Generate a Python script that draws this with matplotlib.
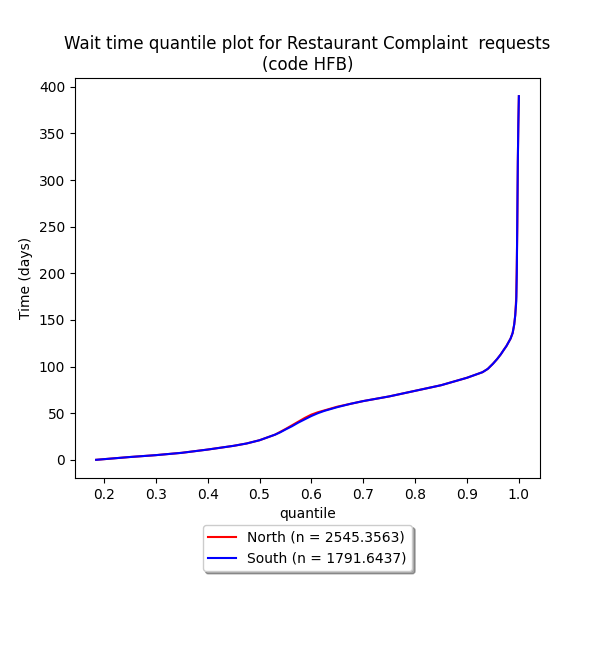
import matplotlib
matplotlib.use('Agg')
import matplotlib.pyplot as plt

# quantile curves
north_q = [0.185, 0.25, 0.3, 0.35, 0.4, 0.45, 0.475, 0.5, 0.515, 0.53, 0.54, 0.55, 0.5625, 0.575,
           0.5875, 0.6, 0.6125, 0.625, 0.6375, 0.65, 0.675, 0.7, 0.75, 0.8, 0.85, 0.875, 0.9, 0.915,
           0.93, 0.94, 0.95, 0.958, 0.965, 0.971, 0.976, 0.98, 0.984, 0.988, 0.991, 0.993, 0.995,
           0.996, 0.997, 0.998, 0.999, 1.0]
north_t = [0, 3, 5, 7.5, 11, 15, 17.5, 21, 24, 27, 30, 33, 37, 41,
           45, 48.5, 51, 53, 55, 57, 60, 63, 68, 74, 80, 84, 88, 91,
           94, 97.5, 103, 108, 113, 118, 122, 126, 130, 136, 145, 155, 175,
           210, 250, 320, 360, 390]

south_q = [0.185, 0.25, 0.3, 0.35, 0.4, 0.45, 0.475, 0.5, 0.515, 0.53, 0.54, 0.55, 0.5625, 0.575,
           0.5875, 0.6, 0.6125, 0.625, 0.6375, 0.65, 0.675, 0.7, 0.75, 0.8, 0.85, 0.875, 0.9, 0.915,
           0.93, 0.94, 0.95, 0.958, 0.965, 0.971, 0.976, 0.98, 0.984, 0.988, 0.991, 0.993, 0.995,
           0.996, 0.997, 0.998, 0.999, 1.0]
south_t = [0, 3, 5, 7.5, 11, 15, 17.5, 21, 24, 27, 29.5, 32.5, 36, 40,
           43.5, 47, 50, 52.5, 54.5, 56.5, 60, 63, 68, 74, 80, 84, 88, 91,
           94, 97.5, 103, 108, 113, 118, 122, 126, 130, 136, 145, 155, 170,
           200, 260, 320, 360, 390]

fig = plt.figure(figsize=(6, 6.5), dpi=100)
ax = fig.add_axes([0.125, 1 - 478 / 650, 0.775, 400 / 650])

ax.plot(north_q, north_t, color='red', label='North (n = 2545.3563)')
ax.plot(south_q, south_t, color='blue', label='South (n = 1791.6437)')

ax.set_xlabel('quantile')
ax.set_ylabel('Time (days)')
ax.set_title('Wait time quantile plot for Restaurant Complaint  requests\n(code HFB)')
ax.legend(loc='upper center', bbox_to_anchor=(0.5, -0.1), shadow=True, fancybox=True)

fig.savefig('out.png', dpi=100)
